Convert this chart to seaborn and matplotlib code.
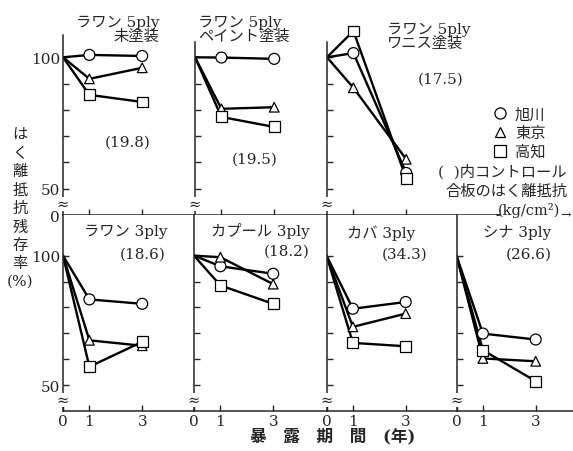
#-----------------------------------------------------------------
# Required Python Packages
#-----------------------------------------------------------------

import pandas as pd
import matplotlib
matplotlib.use("Agg")
import matplotlib.pyplot as plt
from matplotlib.lines import Line2D
import seaborn as sns

#-----------------------------------------------------------------
# Data
#-----------------------------------------------------------------

years = [0, 1, 3]
sites = ["旭川", "東京", "高知"]

panel_titles = [
    "ラワン 5ply\n未塗装",
    "ラワン 5ply\nペイント塗装",
    "ラワン 5ply\nワニス塗装",
    "ラワン 3ply",
    "カプール 3ply",
    "カバ 3ply",
    "シナ 3ply",
]
control_values = [19.8, 19.5, 17.5, 18.6, 18.2, 34.3, 26.6]

# residual peel strength (%) per panel, years 0 / 1 / 3
asahikawa = [
    [100, 100.9, 100.5],
    [100, 99.9, 99.4],
    [100, 101.6, 56.0],
    [100, 83.1, 81.4],
    [100, 95.9, 93.0],
    [100, 79.5, 82.1],
    [100, 69.9, 67.6],
]
tokyo = [
    [100, 91.8, 96.0],
    [100, 80.4, 81.0],
    [100, 88.4, 61.2],
    [100, 67.3, 65.2],
    [100, 99.4, 89.0],
    [100, 72.5, 77.6],
    [100, 60.3, 59.2],
]
kochi = [
    [100, 85.7, 83.0],
    [100, 77.3, 73.5],
    [100, 110.0, 53.9],
    [100, 57.1, 66.7],
    [100, 88.5, 81.4],
    [100, 66.3, 65.0],
    [100, 63.5, 51.5],
]

MARKERS = {"旭川": "o", "東京": "^", "高知": "s"}
SIZES = {"旭川": 62, "東京": 48, "高知": 62}

W, H = 573, 452
PX_PER_YEAR = 26.4


#-----------------------------------------------------------------
# Function Name : px
# Description   : pixel (from top-left) -> figure fraction
#-----------------------------------------------------------------
def px(x, y):
    return x / W, 1 - y / H


#-----------------------------------------------------------------
# Function Name : panel_frame
# Description   : long form dataframe for one panel
#-----------------------------------------------------------------
def panel_frame(i):
    rows = []
    for site, series in zip(sites, [asahikawa, tokyo, kochi]):
        for yr, val in zip(years, series[i]):
            rows.append({"year": yr, "value": val, "site": site})
    return pd.DataFrame(rows)


#-----------------------------------------------------------------
# Function Name : draw_panel
# Description   : lines + open markers for one panel
#-----------------------------------------------------------------
def draw_panel(ax, i):
    df = panel_frame(i)
    sns.lineplot(data=df, x="year", y="value", hue="site",
                 palette={s: "black" for s in sites}, lw=1.7,
                 legend=False, ax=ax)
    sns.scatterplot(data=df[df["year"] > 0], x="year", y="value",
                    style="site", markers=MARKERS, size="site", sizes=SIZES,
                    color="white", edgecolor="black", linewidth=0.9,
                    legend=False, zorder=4, clip_on=False, ax=ax)
    ax.set_xlabel("")
    ax.set_ylabel("")
    for side in ["top", "right"]:
        ax.spines[side].set_visible(False)
    # axis break mark
    ax.text(0, 44.3, "≈", ha="center", va="center", fontsize=10.5,
            bbox=dict(fc="white", ec="none", pad=0.1), zorder=6, clip_on=False)


def main():
    sns.set_style("ticks", {"xtick.direction": "in", "ytick.direction": "in"})
    plt.rcParams["font.family"] = ["DejaVu Serif", "Noto Sans CJK JP"]
    plt.rcParams["axes.linewidth"] = 1.1

    fig = plt.figure(figsize=(W / 100, H / 100), dpi=100)

    # top row: bottom at 216px, 40..110
    top_left = [63, 195, 327]
    top_width = [132, 132, 170]
    spine_top = [108.5, 106, 106]
    # bottom row: bottom at 412px, 40..115.7
    bot_left = [63, 194, 326.5, 456.5]
    bot_width = [131, 132.5, 130, 116.5]

    axes = []
    for k in range(3):
        x0, y0 = px(top_left[k], 216)
        axes.append(fig.add_axes([x0, y0, top_width[k] / W, 184 / H]))
    for k in range(4):
        x0, y0 = px(bot_left[k], 412)
        axes.append(fig.add_axes([x0, y0, bot_width[k] / W, 196 / H]))

    for i, ax in enumerate(axes):
        draw_panel(ax, i)
        ax.set_ylim(40, 110 if i < 3 else 115.7)
        ax.set_xlim(0, (top_width[i] if i < 3 else bot_width[i - 3]) / PX_PER_YEAR)
        ax.tick_params(length=4, width=1, labelsize=11, pad=2)
        if i < 3:
            ax.spines["left"].set_bounds(40, spine_top[i])
            ax.set_xticks([1, 3])
            ax.set_xticklabels([])
        else:
            ax.set_xticks(years)
            ax.set_xticklabels([str(y) for y in years])
        if i == 0:
            ax.set_yticks([40, 50, 60, 70, 80, 90, 100])
            ax.set_yticklabels(["0", "50", "", "", "", "", "100"])
        elif i == 3:
            ax.set_yticks([50, 60, 70, 80, 90, 100])
            ax.set_yticklabels(["50", "", "", "", "", "100"])
        else:
            ax.set_yticks([50, 60, 70, 80, 90, 100])
            ax.set_yticklabels([])

    # panel titles
    title_pos = [(159, 30, "right"), (198, 30, "left"), (387, 37, "left"),
                 (167, 232, "right"), (310, 231, "right"), (381, 233, "center"),
                 (551, 233, "right")]
    for i, (x, y, ha) in enumerate(title_pos):
        fig.text(*px(x, y), panel_titles[i], ha=ha, va="center",
                 fontsize=11, multialignment=ha, linespacing=1.0)

    # control strength in parentheses
    ctrl_pos = [(128, 143), (255, 160), (441, 80),
                (143, 255), (287, 252), (405, 255), (529, 255)]
    for v, (x, y) in zip(control_values, ctrl_pos):
        fig.text(*px(x, y), f"({v})", ha="center", va="center", fontsize=11)

    # legend
    handles = [Line2D([], [], ls="none", marker=MARKERS[s], ms=8 if s != "東京" else 7,
                      mfc="white", mec="black", mew=0.9) for s in sites]
    fig.legend(handles, sites, loc="upper left", bbox_to_anchor=px(492, 108),
               frameon=False, fontsize=11, handlelength=1.0, handletextpad=0.5,
               borderpad=0, borderaxespad=0, labelspacing=0.3)

    fig.text(*px(567, 172), "(  )内コントロール", ha="right", va="center", fontsize=11)
    fig.text(*px(567, 192), "合板のはく離抵抗", ha="right", va="center", fontsize=11)
    fig.text(*px(560, 211), "(kg/cm²)", ha="right", va="center", fontsize=10.5)
    fig.text(*px(566, 215), "→", ha="center", va="center", fontsize=9)
    fig.add_artist(Line2D([497 / W, 500 / W], [1 - 216 / H] * 2, color="black", lw=1.1))

    # axis titles
    fig.text(*px(20, 209), "は\nく\n離\n抵\n抗\n残\n存\n率\n(%)", ha="center",
             va="center", fontsize=11, linespacing=1.38)
    fig.text(*px(333, 437), "暴　露　期　間　(年)", ha="center", va="center",
             fontsize=12, fontweight="bold")

    fig.savefig("out.png", dpi=100)


if __name__ == "__main__":
    main()
